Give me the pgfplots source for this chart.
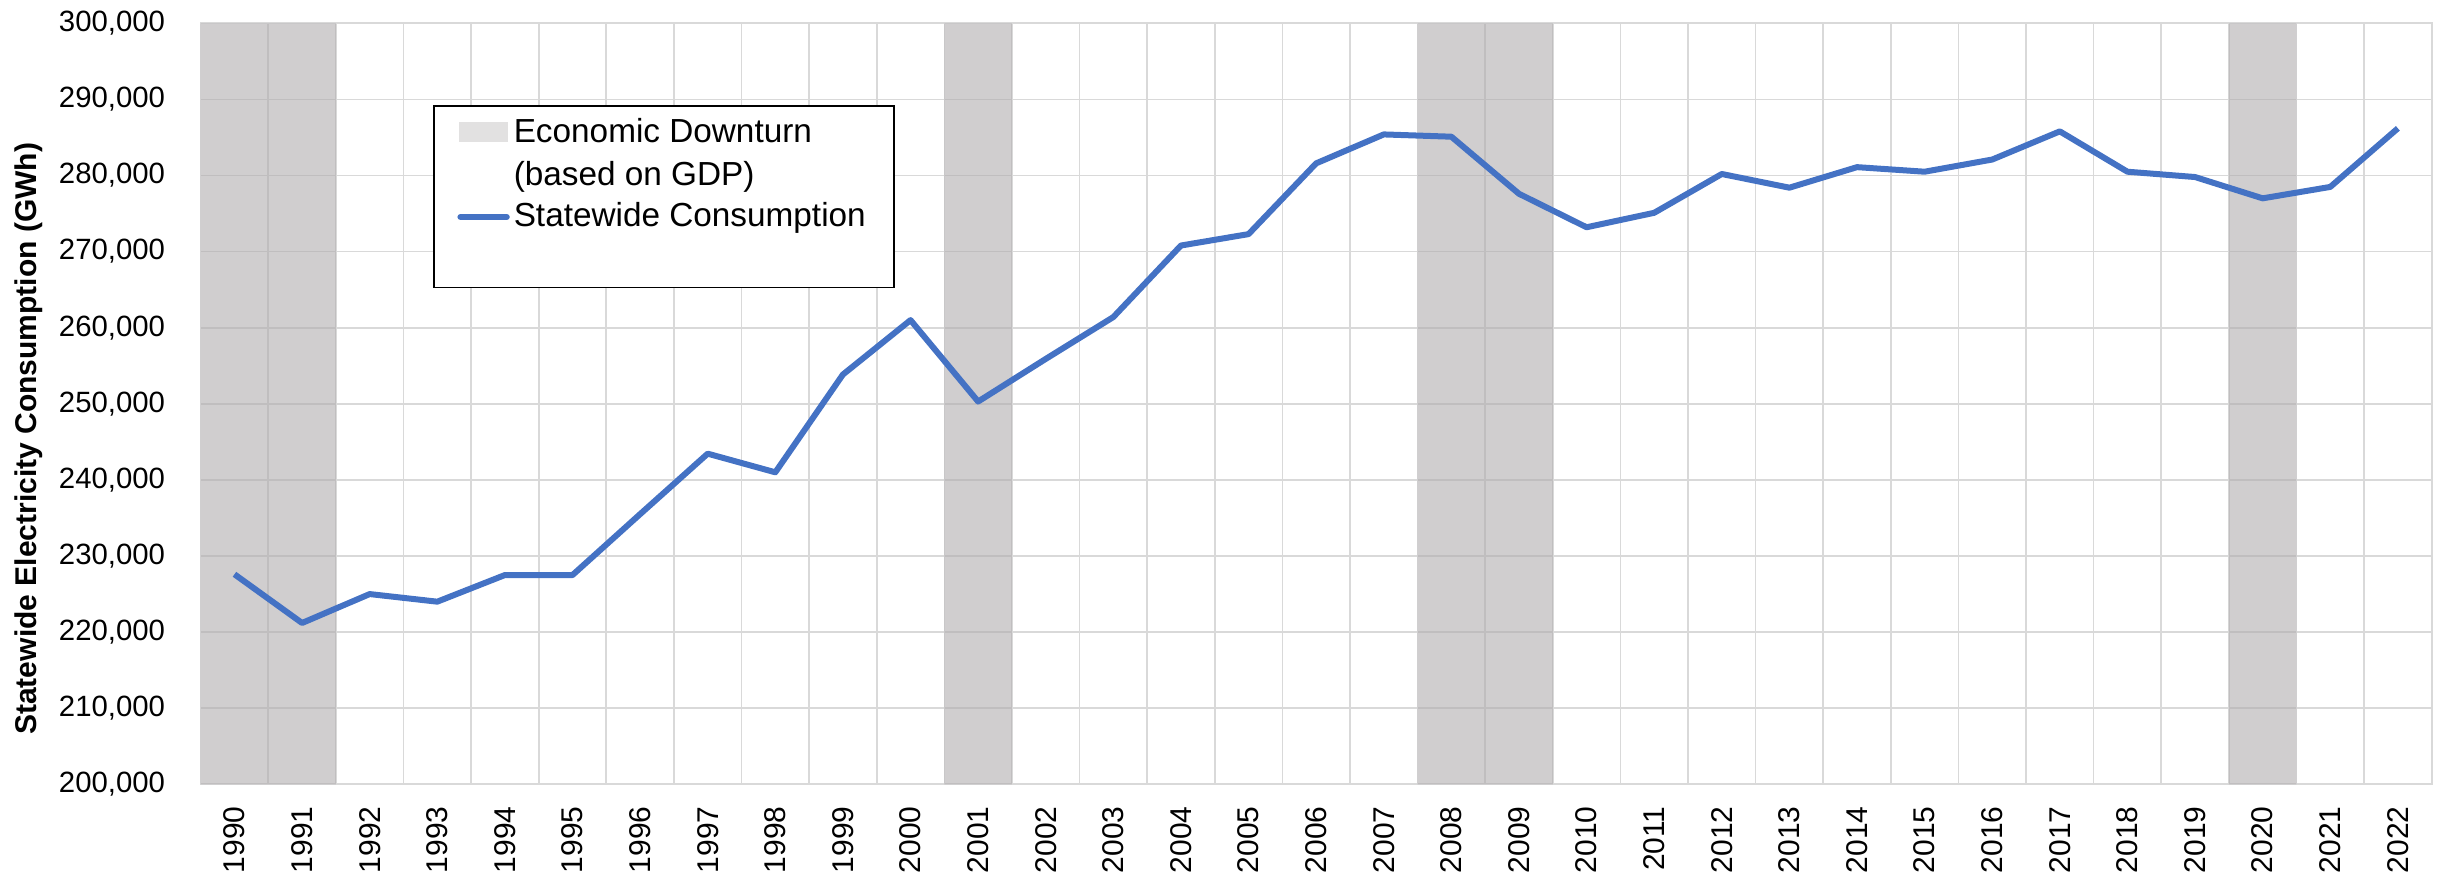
\documentclass[border=0pt]{standalone}
\usepackage{fontspec}
\setmainfont{Liberation Sans}
\usepackage{pgfplots}
\pgfplotsset{compat=1.18}
\definecolor{downgray}{RGB}{176,173,175}
\definecolor{legendgray}{RGB}{207,205,206}
\definecolor{lineblue}{RGB}{68,114,196}
\definecolor{gridgray}{RGB}{217,217,217}
\begin{document}
\begin{tikzpicture}
\path[use as bounding box] (-60.2pt,-28.4pt) rectangle (673.3pt,235.3pt);
\begin{axis}[
  at={(0,0)}, anchor=south west,
  scale only axis, width=669.3pt, height=228.3pt,
  xmin=-0.5, xmax=32.5, ymin=200000, ymax=300000,
  xtick={0,...,32},
  xticklabels={1990,1991,1992,1993,1994,1995,1996,1997,1998,1999,2000,2001,2002,2003,2004,2005,2006,2007,2008,2009,2010,2011,2012,2013,2014,2015,2016,2017,2018,2019,2020,2021,2022},
  minor xtick={-0.5,0.5,...,32.5},
  xminorgrids, ymajorgrids,
  ytick={200000,210000,...,300000},
  scaled y ticks=false,
  major tick length=0pt, minor tick length=0pt,
  major grid style={gridgray, line width=0.5pt},
  minor grid style={gridgray, line width=0.5pt},
  axis line style={gridgray, line width=0.5pt},
  /pgf/number format/fixed,
  /pgf/number format/1000 sep={,},
  /pgf/number format/assume math mode=true,
  y tick label style={font=\fontsize{8.8}{10}\selectfont, anchor=east, inner xsep=10.5pt, inner ysep=0pt},
  x tick label style={font=\fontsize{9}{10}\selectfont, rotate=90, anchor=east, inner xsep=6.4pt, inner ysep=0pt},
  ylabel={Statewide Electricity Consumption (GWh)},
  every axis y label/.style={at={(axis description cs:0,0.454)}, xshift=-51.5pt, rotate=90, anchor=center, font=\bfseries\fontsize{9}{10}\selectfont},
  legend style={at={(axis description cs:0.1043,0.8926)}, anchor=north west, draw=black, line width=0.45pt,
    fill=white, font=\fontsize{10}{13}\selectfont, inner xsep=7pt, inner ysep=1.9pt,
    row sep=1pt, column sep=1.2pt,
    nodes={inner sep=0pt, text depth={}, text height={}},
    cells={anchor=base west}},
]
\addplot[ybar, bar width=1, fill=downgray, fill opacity=0.6, draw=none,
  legend image code/.code={\fill[legendgray] (0.5pt,0.2pt) rectangle (15.3pt,6.2pt);}]
  coordinates {(0,300000) (1,300000) (11,300000) (18,300000) (19,300000) (30,300000)};
\addlegendentry{\begin{tabular}[t]{@{}l@{}}Economic Downturn\\(based on GDP)\end{tabular}}
\addplot[lineblue, line width=1.8pt, line join=round,
  legend image code/.code={\draw[lineblue, line width=1.8pt, line cap=round] (0.9pt,2.8pt) -- (14.8pt,2.8pt);}]
  coordinates {
  (0,227600) (1,221200) (2,225000) (3,224000) (4,227500) (5,227500)
  (6,235500) (7,243450) (8,241000) (9,253850) (10,261000) (11,250300)
  (12,255900) (13,261400) (14,270800) (15,272300) (16,281600) (17,285400)
  (18,285100) (19,277600) (20,273200) (21,275100) (22,280200) (23,278400)
  (24,281100) (25,280500) (26,282100) (27,285800) (28,280500) (29,279800)
  (30,277000) (31,278500) (32,286200)};
\addlegendentry{Statewide Consumption\hspace{1.5pt}\rule[-16.4pt]{0pt}{9.1pt}}
\end{axis}
\end{tikzpicture}
\end{document}
